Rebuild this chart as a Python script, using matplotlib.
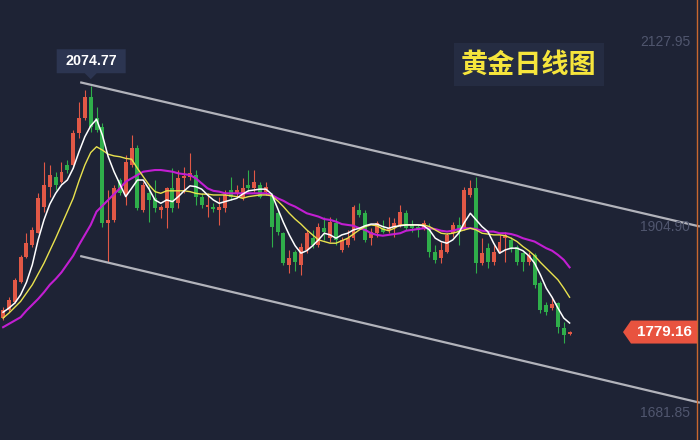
import matplotlib
matplotlib.use("Agg")
import matplotlib.pyplot as plt
from matplotlib.patches import Rectangle, Polygon
import numpy as np

# daily gold candles (open / high / low / close)
opens = [1796, 1806, 1815, 1839, 1869, 1884, 1898, 1930, 1954, 1966,
         1960, 1980, 1980, 2018, 2037, 2062, 2037, 2026, 1910, 1914,
         1962, 1944, 1980, 2000, 1926, 1946, 1940, 1926, 1928, 1952,
         1934, 1964, 1966, 1968, 1942, 1930, 1930, 1926, 1928, 1950,
         1946, 1940, 1956, 1952, 1956, 1948, 1944, 1922, 1898, 1860,
         1875, 1860, 1878, 1892, 1884, 1904, 1892, 1910, 1878, 1884,
         1892, 1926, 1922, 1892, 1898, 1904, 1902, 1906, 1908, 1922,
         1908, 1906, 1904, 1904, 1876, 1868, 1876, 1898, 1908, 1904,
         1944, 1952, 1862, 1880, 1863, 1875, 1892, 1890, 1882, 1874,
         1863, 1872, 1838, 1812, 1808, 1814, 1784, 1777]
highs = [1809, 1821, 1844, 1872, 1898, 1905, 1946, 1984, 1980, 1972,
         1984, 1986, 2022, 2056, 2070, 2074.77, 2050, 2031, 1950, 1956,
         1964, 1992, 2016, 2004, 1960, 1956, 1962, 1932, 1954, 1976,
         1974, 1978, 1994, 1974, 1946, 1946, 1934, 1941, 1950, 1966,
         1956, 1964, 1974, 1974, 1960, 1960, 1946, 1926, 1900, 1878,
         1878, 1886, 1902, 1902, 1910, 1918, 1918, 1916, 1894, 1902,
         1932, 1934, 1926, 1904, 1913, 1914, 1918, 1916, 1932, 1926,
         1914, 1908, 1914, 1910, 1884, 1888, 1898, 1912, 1918, 1954,
         1962, 1966, 1892, 1886, 1884, 1896, 1900, 1893, 1884, 1875,
         1875, 1874, 1840, 1815, 1821, 1815, 1791, 1781]
lows = [1794, 1803, 1814, 1838, 1868, 1881, 1898, 1923, 1942, 1950,
        1958, 1970, 1977, 2012, 2034, 2020, 2020, 1905, 1864, 1912,
        1944, 1932, 1978, 1926, 1924, 1912, 1924, 1916, 1904, 1924,
        1928, 1946, 1962, 1932, 1928, 1918, 1924, 1908, 1923, 1938,
        1942, 1938, 1948, 1948, 1940, 1944, 1882, 1896, 1860, 1850,
        1852, 1848, 1874, 1880, 1882, 1890, 1888, 1884, 1875, 1882,
        1890, 1918, 1888, 1884, 1893, 1898, 1898, 1894, 1905, 1902,
        1900, 1894, 1902, 1870, 1862, 1862, 1874, 1894, 1884, 1902,
        1942, 1850, 1860, 1856, 1860, 1874, 1863, 1875, 1860, 1853,
        1860, 1832, 1802, 1800, 1806, 1778, 1766, 1776]
closes = [1806, 1818, 1842, 1869, 1886, 1902, 1940, 1956, 1968, 1956,
          1972, 1974, 2018, 2037, 2062, 2026, 2022, 1910, 1914, 1952,
          1946, 1984, 2000, 1928, 1956, 1938, 1928, 1930, 1952, 1928,
          1964, 1967, 1970, 1942, 1932, 1932, 1927, 1930, 1944, 1942,
          1950, 1952, 1952, 1960, 1942, 1954, 1906, 1900, 1862, 1868,
          1863, 1882, 1898, 1884, 1906, 1900, 1912, 1890, 1890, 1892,
          1930, 1920, 1890, 1900, 1910, 1900, 1904, 1910, 1924, 1904,
          1904, 1902, 1910, 1876, 1866, 1878, 1896, 1908, 1900, 1950,
          1952, 1862, 1874, 1863, 1875, 1888, 1896, 1880, 1863, 1863,
          1872, 1836, 1806, 1803, 1813, 1785, 1776, 1779.16]

# moving averages as shown on the chart
ma5 = [1803, 1808, 1814, 1824, 1839, 1860, 1890, 1914, 1933, 1946,
       1956, 1962, 1976, 1996, 2014, 2027, 2035, 2016, 1990, 1972,
       1957, 1942, 1952, 1962, 1962, 1951, 1938, 1934, 1938, 1936,
       1942, 1949, 1955, 1954, 1951, 1944, 1938, 1934, 1936, 1938,
       1940, 1945, 1949, 1950, 1951, 1951, 1945, 1928, 1911, 1896,
       1883, 1874, 1877, 1883, 1890, 1898, 1896, 1892, 1896, 1898,
       1902, 1904, 1907, 1909, 1909, 1906, 1904, 1906, 1907, 1908,
       1908, 1908, 1907, 1902, 1892, 1888, 1886, 1890, 1898, 1911,
       1922, 1914, 1906, 1900, 1886, 1874, 1878, 1880, 1880, 1877,
       1871, 1862, 1848, 1832, 1821, 1808, 1796, 1790]
ma10 = [1796, 1802, 1809, 1816, 1826, 1836, 1849, 1862, 1877, 1892,
        1908, 1924, 1940, 1961, 1980, 1995, 2002, 1998, 1993, 1991,
        1990, 1988, 1987, 1976, 1966, 1956, 1948, 1946, 1949, 1949,
        1949, 1949, 1948, 1946, 1945, 1945, 1944, 1944, 1944, 1943,
        1942, 1940, 1942, 1943, 1944, 1944, 1943, 1937, 1930, 1922,
        1915, 1909, 1902, 1896, 1890, 1888, 1886, 1886, 1889, 1892,
        1897, 1902, 1906, 1908, 1907, 1903, 1901, 1904, 1908, 1908,
        1908, 1908, 1908, 1906, 1902, 1898, 1897, 1898, 1900, 1902,
        1904, 1902, 1898, 1897, 1896, 1896, 1895, 1892, 1888, 1882,
        1877, 1871, 1863, 1856, 1849, 1842, 1832, 1821]
ma20 = [1785, 1789, 1793, 1797, 1805, 1812, 1819, 1827, 1836, 1843,
        1851, 1861, 1871, 1884, 1896, 1908, 1924, 1931, 1938, 1945,
        1952, 1960, 1964, 1968, 1972, 1973, 1974, 1974, 1973, 1972,
        1970, 1969, 1968, 1964, 1958, 1952, 1949, 1948, 1946, 1946,
        1946, 1946, 1946, 1946, 1946, 1946, 1944, 1940, 1937, 1933,
        1930, 1926, 1922, 1920, 1918, 1915, 1914, 1912, 1909, 1908,
        1907, 1904, 1902, 1898, 1896, 1895, 1896, 1897, 1898, 1901,
        1902, 1903, 1904, 1904, 1903, 1901, 1900, 1901, 1903, 1904,
        1904, 1903, 1901, 1900, 1900, 1898, 1898, 1897, 1895, 1892,
        1890, 1888, 1884, 1880, 1877, 1872, 1866, 1857]

# descending channel: (candle index, price) at both ends
upper_channel_x = [13.2, 119.3]
upper_channel_y = [2079.5, 1906.1]
lower_channel_x = [13.2, 119.3]
lower_channel_y = [1870.6, 1694.2]

axis_prices = [2127.95, 1904.90, 1681.85]
last_price = 1779.16
title = "黄金日线图"

BG = "#1e2335"
RED = "#e15846"
GREEN = "#2fae4a"

fig = plt.figure(figsize=(7, 4.4), dpi=100, facecolor=BG)
ax = fig.add_axes([0, 0, 1, 1])
ax.set_facecolor(BG)
ax.set_xlim(-0.53, 119.33)
ax.set_ylim(1649.35, 2178.46)
ax.axis("off")

o = np.array(opens, dtype=float)
h = np.array(highs, dtype=float)
l = np.array(lows, dtype=float)
c = np.array(closes, dtype=float)
x = np.arange(len(c))
colors = np.where(c >= o, RED, GREEN)

# candles
ax.vlines(x, l, h, colors=colors, linewidth=0.8, zorder=2)
ax.bar(x, np.maximum(np.abs(c - o), 1.2), bottom=np.minimum(o, c), width=0.68,
       color=colors, linewidth=0, zorder=3)

# moving averages
ax.plot(x, ma20, color="#c21ed2", linewidth=1.5, zorder=4)
ax.plot(x, ma10, color="#e9e24e", linewidth=1.0, zorder=4)
ax.plot(x, ma5, color="#ffffff", linewidth=1.1, zorder=5)

# channel
ax.plot(upper_channel_x, upper_channel_y, color="#b2b3bb", linewidth=1.6, zorder=6,
        solid_capstyle="butt")
ax.plot(lower_channel_x, lower_channel_y, color="#b2b3bb", linewidth=1.6, zorder=6,
        solid_capstyle="butt")

# right price scale labels
ytrans = ax.get_yaxis_transform()
for p in axis_prices:
    ax.text(0.986, p, f"{p:.2f}", transform=ytrans, ha="right", va="center",
            color="#50566e", fontsize=10, family="Liberation Sans", zorder=7)

# orange edge line
ax.axvline(118.9, color="#c8672f", linewidth=1.0, zorder=7)

# title box
ax.add_patch(Rectangle((454 / 700, 1 - 86 / 440), 150 / 700, 43 / 440,
                       transform=ax.transAxes, facecolor="#252c42", edgecolor="none", zorder=7))
ax.text(529 / 700, 1 - 64.5 / 440, title, transform=ax.transAxes, ha="center", va="center",
        color="#f6e53c", fontsize=19.5, fontweight="bold",
        family=["Noto Sans CJK SC", "DejaVu Sans"], zorder=8)

fig.canvas.draw()

# high callout
imax = int(np.argmax(h))
hx, hy = ax.transData.transform((imax, h[imax]))
box_w, box_h = 69, 24
bx0, by0 = hx - 34, hy + 13
callout = Polygon([(bx0, by0), (hx - 6, by0), (hx, hy + 7), (hx + 6, by0),
                   (bx0 + box_w, by0), (bx0 + box_w, by0 + box_h), (bx0, by0 + box_h)],
                  closed=True, transform=None, facecolor="#2c3551", edgecolor="none", zorder=8)
fig.patches.append(callout)
fig.text((bx0 + box_w / 2) / 700, (by0 + box_h / 2) / 440, f"{h[imax]:.2f}",
         ha="center", va="center", color="white", fontsize=10.3, fontweight="bold",
         family="Liberation Sans", zorder=9)

# last price tag
_, ly = ax.transData.transform((0, last_price))
tag_l, tag_r = 631, 697
tag = Polygon([(623, ly), (tag_l, ly + 11.5), (tag_r, ly + 11.5), (tag_r, ly - 11.5),
               (tag_l, ly - 11.5)], closed=True, transform=None,
              facecolor="#e8533f", edgecolor="none", zorder=8)
fig.patches.append(tag)
fig.text((tag_l + tag_r) / 2 / 700, ly / 440, f"{last_price:.2f}", ha="center", va="center",
         color="white", fontsize=11, fontweight="bold", family="Liberation Sans", zorder=9)

fig.savefig("out.png", dpi=100, facecolor=BG)
